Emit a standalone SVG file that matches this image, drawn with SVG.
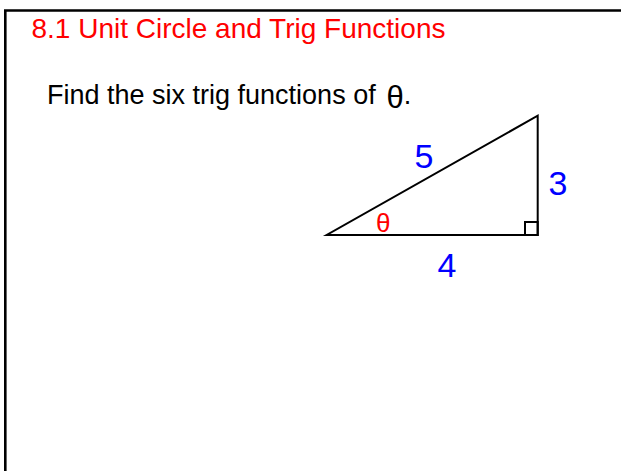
<svg xmlns="http://www.w3.org/2000/svg" width="621" height="471" viewBox="0 0 621 471">
<style>
  text { font-family: "Liberation Sans", Arial, sans-serif; }
  .title { font-size: 28px; fill: #FF0000; }
  .body { font-size: 27px; fill: #000000; }
  .side { font-size: 34px; fill: #0000FF; text-anchor: middle; }
  .ang { font-size: 26px; fill: #FF0000; text-anchor: middle; }
  .edge { fill: none; stroke: #000000; stroke-width: 2; }
</style>
<rect width="621" height="471" fill="#FFFFFF"/>
<g id="frame">
  <path d="M5.3,480 V10.5 H640" fill="none" stroke="#000000" stroke-width="2.6"/>
</g>
<g id="title">
  <text class="title" x="31.5" y="37.5">8.1 Unit Circle and Trig Functions</text>
</g>
<g id="prompt">
  <text class="body" x="47" y="104">Find the six trig functions of <tspan x="386.5" y="108" font-size="31">θ</tspan><tspan x="403.8" y="104">.</tspan></text>
</g>
<g id="triangle">
  <polygon class="edge" points="326.7,235 537.7,235 537.7,115.7" stroke-linejoin="miter"/>
  <rect class="edge" x="525" y="222" width="12.7" height="13"/>
</g>
<g id="labels">
  <text id="hyp" class="side" x="424" y="168">5</text>
  <text id="opp" class="side" x="558" y="194.5">3</text>
  <text id="adj" class="side" x="447" y="277">4</text>
  <text id="theta" class="ang" x="383.3" y="232">θ</text>
</g>
</svg>
